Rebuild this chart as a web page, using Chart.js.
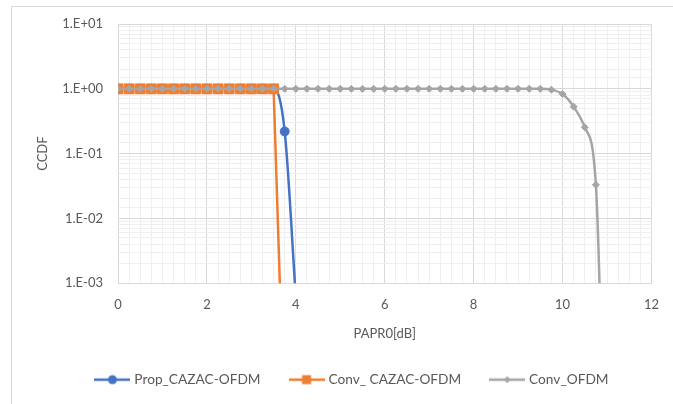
<!DOCTYPE html>
<html lang="en">
<head>
  <meta charset="UTF-8" />
  <title>CCDF of PAPR</title>
  <script src="https://cdn.jsdelivr.net/npm/chart.js"></script>
  <style>
    html, body {
      margin: 0;
      padding: 0;
      background: #fff;
    }
    .frame {
      position: absolute;
      left: 11px;
      top: 6px;
      width: 700px;
      height: 420px;
      border: 1px solid #d9d9d9;
    }
    .wrap {
      position: absolute;
      left: 0;
      top: 0;
      width: 673px;
      height: 404px;
    }
  </style>
</head>
<body>
  <div class="frame"></div>
  <div class="wrap">
    <canvas id="ccdfChart" width="673" height="404"></canvas>
  </div>

  <script>
    // PAPR0 sample points [dB]
    const papr = [
      0, 0.25, 0.5, 0.75, 1, 1.25, 1.5, 1.75, 2, 2.25, 2.5, 2.75,
      3, 3.25, 3.5, 3.75, 4, 4.25, 4.5, 4.75, 5, 5.25, 5.5, 5.75,
      6, 6.25, 6.5, 6.75, 7, 7.25, 7.5, 7.75, 8, 8.25, 8.5, 8.75,
      9, 9.25, 9.5, 9.75, 10, 10.25, 10.5, 10.75, 11
    ];

    const seriesNames = ['Prop_CAZAC-OFDM', 'Conv_ CAZAC-OFDM', 'Conv_OFDM'];

    // CCDF values
    const propCazac = [
      1, 1, 1, 1, 1, 1, 1, 1, 1, 1, 1, 1, 1, 1, 1,
      0.22, 0.0006
    ];
    const convCazac = [
      1, 1, 1, 1, 1, 1, 1, 1, 1, 1, 1, 1, 1, 1, 1,
      0.0000045
    ];
    const convOfdm = [
      1, 1, 1, 1, 1, 1, 1, 1, 1, 1, 1, 1, 1, 1, 1, 1, 1, 1, 1, 1,
      1, 1, 1, 1, 1, 1, 1, 1, 1, 1, 1, 1, 1, 1, 1, 1, 1, 1, 1,
      0.97, 0.83, 0.53, 0.255, 0.033, 0.00000003
    ];

    const yTickValues = [0.001, 0.01, 0.1, 1, 10];
    const xTickValues = [0, 2, 4, 6, 8, 10, 12];

    const blue = '#4472C4';
    const orange = '#ED7D31';
    const gray = '#A5A5A5';
    const tickColor = '#595959';

    Chart.defaults.font.family = 'Lato, "Open Sans", sans-serif';
    Chart.defaults.font.size = 13;
    Chart.defaults.color = tickColor;

    function toPoints(vals) {
      return vals.map((v, i) => ({ x: papr[i], y: v }));
    }

    function sciLabel(v) {
      const e = Math.round(Math.log10(v));
      const s = e < 0 ? '-' : '+';
      return '1.E' + s + String(Math.abs(e)).padStart(2, '0');
    }

    function isDecade(v) {
      return yTickValues.some(t => Math.abs(t - v) / t < 1e-6);
    }

    // little line+marker pictures for the legend
    function legendIcon(color, style) {
      const c = document.createElement('canvas');
      c.width = 36;
      c.height = 14;
      const g = c.getContext('2d');
      g.strokeStyle = color;
      g.fillStyle = color;
      g.lineWidth = 2.5;
      g.beginPath();
      g.moveTo(0, 7);
      g.lineTo(36, 7);
      g.stroke();
      g.beginPath();
      if (style === 'circle') {
        g.arc(18, 7, 4.5, 0, Math.PI * 2);
      } else if (style === 'rect') {
        g.rect(13.5, 2.5, 9, 9);
      } else {
        g.moveTo(18, 3.5); g.lineTo(21.5, 7); g.lineTo(18, 10.5); g.lineTo(14.5, 7);
        g.closePath();
      }
      g.fill();
      return c;
    }

    const icons = [
      legendIcon(blue, 'circle'),
      legendIcon(orange, 'rect'),
      legendIcon(gray, 'diamond')
    ];

    const ctx = document.getElementById('ccdfChart').getContext('2d');
    new Chart(ctx, {
      type: 'line',
      data: {
        datasets: [
          {
            label: seriesNames[0],
            data: toPoints(propCazac),
            borderColor: blue,
            backgroundColor: blue,
            borderWidth: 2.5,
            pointStyle: 'circle',
            pointRadius: 4.5,
            pointBorderWidth: 1,
            cubicInterpolationMode: 'monotone',
            order: 2
          },
          {
            label: seriesNames[1],
            data: toPoints(convCazac),
            borderColor: orange,
            backgroundColor: orange,
            borderWidth: 2.5,
            pointStyle: 'rect',
            pointRadius: 7,
            pointBorderWidth: 1,
            tension: 0,
            order: 1
          },
          {
            label: seriesNames[2],
            data: toPoints(convOfdm),
            borderColor: gray,
            backgroundColor: gray,
            borderWidth: 2.5,
            pointStyle: 'rectRot',
            pointRadius: 3.5,
            pointBorderWidth: 1,
            cubicInterpolationMode: 'monotone',
            order: 0
          }
        ]
      },
      options: {
        responsive: false,
        animation: false,
        layout: {
          padding: { top: 24, right: 16, bottom: 7.5, left: 49 }
        },
        scales: {
          x: {
            type: 'linear',
            min: 0,
            max: 12,
            afterFit: (scale) => { scale.height = 58.5; },
            border: { color: '#d9d9d9' },
            grid: {
              drawTicks: false,
              color: (c) => xTickValues.includes(c.tick.value) ? '#d9d9d9' : '#efefef'
            },
            ticks: {
              stepSize: 0.25,
              autoSkip: false,
              maxRotation: 0,
              padding: 14,
              color: tickColor,
              callback: (v) => xTickValues.includes(v) ? String(v) : ''
            },
            title: {
              display: true,
              text: 'PAPR0[dB]',
              color: tickColor,
              font: { size: 13 },
              padding: { top: 3.5, bottom: 0 }
            }
          },
          y: {
            type: 'logarithmic',
            min: 0.001,
            max: 10,
            afterFit: (scale) => { scale.width = 69; },
            border: { color: '#d9d9d9' },
            grid: {
              drawTicks: false,
              color: (c) => isDecade(c.tick.value) ? '#d9d9d9' : '#efefef'
            },
            ticks: {
              autoSkip: false,
              padding: 15,
              color: tickColor,
              callback: (v) => isDecade(v) ? sciLabel(v) : ''
            },
            title: {
              display: true,
              text: 'CCDF',
              color: tickColor,
              font: { size: 13 },
              padding: { top: -13.8, bottom: 0 }
            }
          }
        },
        plugins: {
          legend: {
            position: 'bottom',
            labels: {
              usePointStyle: true,
              pointStyleWidth: 30,
              padding: 31,
              color: tickColor,
              font: { size: 13.7 },
              generateLabels: (chart) => chart.data.datasets.map((ds, i) => ({
                text: ds.label,
                pointStyle: icons[i],
                fillStyle: ds.borderColor,
                strokeStyle: ds.borderColor,
                lineWidth: 0,
                fontColor: tickColor,
                hidden: false,
                datasetIndex: i
              }))
            }
          },
          tooltip: { enabled: false }
        }
      }
    });
  </script>
</body>
</html>
